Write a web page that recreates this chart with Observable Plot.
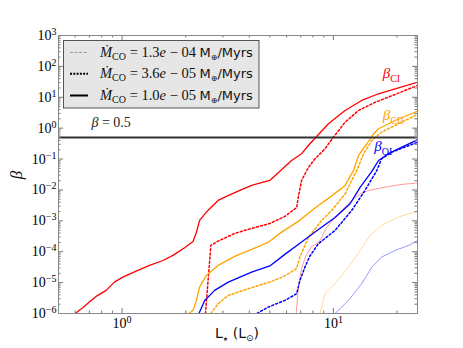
<!DOCTYPE html>
<html><head><meta charset="utf-8">
<script src="https://cdn.jsdelivr.net/npm/d3@7"></script>
<script src="https://cdn.jsdelivr.net/npm/@observablehq/plot@0.6"></script>
<style>body{margin:0;background:#fff}#chart{width:463px;height:348px}</style>
</head><body><div id="chart"></div>
<script>
// ---- data (L_star in L_sun, beta) ----
const ciSolidL = [0.6,0.651,0.700,0.753,0.840,0.919,1.008,1.165,1.348,1.561,1.740,1.975,2.165,2.245,2.327,2.504,2.596,2.846,3.06,3.54,4.10,4.65,5.00,5.68,6.34,7.07,7.74,8.33,9.47,11.36,13.6,16.35,19.6,25];
const ciSolidB = [1.0e-6,1.54e-6,2.34e-6,3.57e-6,5.6e-6,1.04e-5,1.51e-5,2.36e-5,3.6e-5,5.2e-5,7.6e-5,1.35e-4,2.15e-4,4.2e-4,1.03e-3,1.91e-3,2.47e-3,4.57e-3,5.85e-3,9.1e-3,1.40e-2,1.79e-2,2.03e-2,4.5e-2,9.0e-2,0.149,0.313,0.539,1.39,3.74,7.88,13.0,18.8,30.8];
const ciDotL = [2.48,2.63,2.846,3.41,4.10,5.00,5.89,6.70,6.82,7.07,7.61,8.18,9.12,10.0,11.36,13.15,15.8,18.2,25];
const ciDotB = [1e-6,1.60e-4,2.20e-4,3.91e-4,5.7e-4,8.2e-4,1.39e-3,2.71e-3,5.85e-3,2.03e-2,5.35e-2,0.102,0.215,0.51,1.56,3.74,6.94,10.1,24.1];
const ciFaintL = [6.66,6.84,7.07,7.39,7.89,8.51,8.80,9.29,10.56,12.2,13.4,14.7,17.6,21.1,25];
const ciFaintB = [1e-6,8.1e-6,2.88e-5,7.05e-5,1.48e-4,2.0e-4,2.90e-4,6.1e-4,1.70e-3,4.57e-3,7.5e-3,9.6e-3,1.23e-2,1.51e-2,1.69e-2];

const ciiSolidL = [2.064,2.165,2.245,2.327,2.504,2.846,3.41,4.10,4.91,5.68,6.82,8.18,9.64,11.36,12.45,13.15,14.4,15.5,16.35,19.6,25];
const ciiSolidB = [1e-6,1.26e-6,2.65e-6,7.15e-6,1.71e-5,3.6e-5,7.05e-5,1.19e-4,2.0e-4,4.31e-4,9.6e-4,2.61e-3,5.85e-3,1.40e-2,4.28e-2,0.131,0.313,0.659,0.957,1.77,3.55];
const ciiDotL = [2.63,2.846,3.18,3.95,5.00,5.89,6.70,6.94,7.61,8.80,9.82,11.36,12.9,13.9,15.2,16.9,20.3,25];
const ciiDotB = [1e-6,2.07e-6,3.85e-6,6.35e-6,1.04e-5,1.65e-5,2.88e-5,6.7e-5,2.90e-4,1.03e-3,2.17e-3,7.5e-3,4.28e-2,0.149,0.40,0.74,1.39,2.78];
const ciiFaintL = [8.6,9.12,10.18,11.78,13.4,14.9,16.9,20.3,25];
const ciiFaintB = [0.9e-6,4.37e-6,9.2e-6,3.17e-5,1.10e-4,3.37e-4,7.1e-4,1.32e-3,2.06e-3];

const oiSolidL = [2.31,2.46,2.74,3.18,4.10,5.00,5.89,7.07,8.49,10.18,11.99,13.4,15.2,16.35,18.2,21.1,25];
const oiSolidB = [1e-6,2.65e-6,5.6e-6,1.04e-5,2.19e-5,3.47e-5,8.2e-5,2.07e-4,5.27e-4,1.29e-3,3.58e-3,1.23e-2,3.97e-2,9.0e-2,0.149,0.243,0.42];
const oiDotL = [4.35,4.91,5.89,6.70,6.94,7.33,7.72,8.49,10.18,12.2,14.1,16.05,16.9,18.9,25];
const oiDotB = [1e-6,1.61e-6,2.65e-6,4.37e-6,1.18e-5,3.17e-5,7.05e-5,1.82e-4,4.89e-4,2.17e-3,9.6e-3,4.28e-2,0.102,0.167,0.352];
const oiFaintL = [10.18,11.78,13.6,15.2,16.9,19.6,22.7,25];
const oiFaintB = [1e-6,2.65e-6,9.2e-6,3.17e-5,6.7e-5,1.10e-4,1.60e-4,2.32e-4];

const betaRef = 0.5;
const legendRates = ["1.3", "3.6", "1.0"];
const legendExps = ["04", "05", "05"];
const xMajor = [1, 10];
const xMinor = [0.6,0.7,0.8,0.9,2,3,4,5,6,7,8,9,20];
const yMajor = [1e-6,1e-5,1e-4,1e-3,1e-2,1e-1,1,10,100,1000];
const yMinor = [];
for (let e = -6; e < 3; e++) for (let k = 2; k <= 9; k++) yMinor.push(k * Math.pow(10, e));

// ---- chart ----
const W = 463, H = 348, mL = 58, mR = 46, mT = 35, mB = 35;
const fw = W - mL - mR, fh = H - mT - mB;
const toRows = (L, B) => L.map((l, i) => ({L: l, b: B[i]}));
const series = [
  {L: ciFaintL, B: ciFaintB, c: "red", k: "faint"},
  {L: ciiFaintL, B: ciiFaintB, c: "orange", k: "faint"},
  {L: oiFaintL, B: oiFaintB, c: "blue", k: "faint"},
  {L: ciDotL, B: ciDotB, c: "red", k: "dot"},
  {L: ciiDotL, B: ciiDotB, c: "orange", k: "dot"},
  {L: oiDotL, B: oiDotB, c: "blue", k: "dot"},
  {L: ciSolidL, B: ciSolidB, c: "red", k: "solid"},
  {L: ciiSolidL, B: ciiSolidB, c: "orange", k: "solid"},
  {L: oiSolidL, B: oiSolidB, c: "blue", k: "solid"}
];
const lineMarks = series.map(s => Plot.line(toRows(s.L, s.B), {
  x: "L", y: "b", stroke: s.c, clip: true,
  strokeWidth: s.k === "faint" ? 1 : (s.k === "dot" ? 1.5 : 1.3),
  strokeOpacity: s.k === "faint" ? 0.4 : 1,
  strokeDasharray: s.k === "dot" ? "2,2.2" : null
}));
const tc = "#777";
const tickMarks = [
  Plot.tickX(xMajor, {x: d => d, insetTop: fh - 5, stroke: tc}),
  Plot.tickX(xMajor, {x: d => d, insetBottom: fh - 5, stroke: tc}),
  Plot.tickX(xMinor, {x: d => d, insetTop: fh - 2.5, stroke: tc}),
  Plot.tickX(xMinor, {x: d => d, insetBottom: fh - 2.5, stroke: tc}),
  Plot.tickY(yMajor, {y: d => d, insetRight: fw - 5, stroke: tc}),
  Plot.tickY(yMajor, {y: d => d, insetLeft: fw - 5, stroke: tc}),
  Plot.tickY(yMinor, {y: d => d, insetRight: fw - 2.5, stroke: tc}),
  Plot.tickY(yMinor, {y: d => d, insetLeft: fw - 2.5, stroke: tc})
];
const fmt = d => "10^" + Math.round(Math.log10(d));
const svg = Plot.plot({
  width: W, height: H, marginLeft: mL, marginRight: mR, marginTop: mT, marginBottom: mB,
  style: {fontFamily: "'Liberation Serif', serif", fontSize: "14px", background: "#fff", overflow: "visible"},
  x: {type: "log", domain: [0.5, 25]},
  y: {type: "log", domain: [1e-6, 1e3]},
  marks: [
    ...lineMarks,
    Plot.ruleY([betaRef], {stroke: "#333", strokeWidth: 2}),
    ...tickMarks,
    Plot.frame({stroke: "#888"}),
    Plot.axisX({ticks: xMajor, tickSize: 0, tickPadding: 5, tickFormat: fmt, label: null, fontSize: 14}),
    Plot.axisY({ticks: yMajor, tickSize: 0, tickPadding: 2, tickFormat: fmt, label: null, fontSize: 14})
  ]
});
document.getElementById("chart").appendChild(svg);
const S = d3.select(svg);
// superscripts on tick labels
S.selectAll('g[aria-label$="tick label"] text').each(function () {
  const t = d3.select(this);
  const parts = t.text().split("^");
  if (parts.length < 2) return;
  t.text(parts[0]);
  t.append("tspan").attr("dy", "-0.5em").attr("font-size", "10px").text(parts[1].replace("-", "\u2212"));
});
const xs = svg.scale("x"), ys = svg.scale("y");
const serif = "'Liberation Serif', serif", sans = "'DejaVu Sans', sans-serif";
// annotations
function betaLabel(sub, L, b, color) {
  const t = S.append("text").attr("x", xs.apply(L)).attr("y", ys.apply(b)).attr("text-anchor", "start")
    .attr("fill", color).attr("font-family", serif).attr("font-size", 15);
  t.append("tspan").attr("font-style", "italic").text("\u03B2");
  t.append("tspan").attr("dy", 4).attr("font-size", 10).text(sub);
}
betaLabel("CI", 17.2, 40.6, "red");
betaLabel("CII", 17.2, 1.77, "orange");
betaLabel("OI", 15.7, 0.176, "blue");
{
  const t = S.append("text").attr("x", xs.apply(0.72)).attr("y", ys.apply(1.05)).attr("text-anchor", "start")
    .attr("font-family", serif).attr("font-size", 14).attr("fill", "#222");
  t.append("tspan").attr("font-style", "italic").text("\u03B2");
  t.append("tspan").text(" = " + betaRef);
}
// axis titles
{
  const t = S.append("text").attr("x", 237).attr("y", 338).attr("text-anchor", "middle")
    .attr("font-family", sans).attr("font-size", 14).attr("fill", "#111");
  t.append("tspan").text("L");
  t.append("tspan").attr("dy", 3).attr("font-size", 6).text("\u2605");
  t.append("tspan").attr("dy", -3).text(" (L");
  t.append("tspan").attr("dy", 3).attr("font-size", 9).text("\u2299");
  t.append("tspan").attr("dy", -3).text(")");
  S.append("text").attr("transform", "translate(22,175) rotate(-90)").attr("text-anchor", "middle")
    .attr("font-family", serif).attr("font-style", "italic").attr("font-size", 17).attr("fill", "#111").text("\u03B2");
}
// legend
{
  const g = S.append("g").attr("text-anchor", "start");
  g.append("rect").attr("x", 63.5).attr("y", 40.5).attr("width", 195.5).attr("height", 67.5)
    .attr("fill", "#e6e6e6").attr("stroke", "#555").attr("stroke-width", 1);
  const styles = [
    {stroke: "#999", w: 1, dash: "3,1.5"},
    {stroke: "#000", w: 2, dash: "2,1.3"},
    {stroke: "#000", w: 2, dash: null}
  ];
  const rowY = [52.5, 73.8, 95.5];
  rowY.forEach((y, i) => {
    g.append("line").attr("x1", 70).attr("x2", 88).attr("y1", y).attr("y2", y)
      .attr("stroke", styles[i].stroke).attr("stroke-width", styles[i].w)
      .attr("stroke-dasharray", styles[i].dash);
    const t = g.append("text").attr("x", 100).attr("y", y + 4.5).attr("font-family", serif)
      .attr("font-size", 14.5).attr("fill", "#111");
    t.append("tspan").attr("font-style", "italic").text("\u1E40");
    t.append("tspan").attr("dy", 3).attr("font-size", 10).text("CO");
    t.append("tspan").attr("dy", -3).text(" = " + legendRates[i]);
    t.append("tspan").attr("font-style", "italic").text("e");
    t.append("tspan").text(" \u2212 " + legendExps[i] + " ");
    t.append("tspan").attr("font-family", sans).attr("font-size", 13).text("M");
    t.append("tspan").attr("font-family", sans).attr("font-size", 8).attr("dy", 3).text("\u2295");
    t.append("tspan").attr("font-family", sans).attr("font-size", 13).attr("dy", -3).text("/Myrs");
  });
}
</script></body></html>
